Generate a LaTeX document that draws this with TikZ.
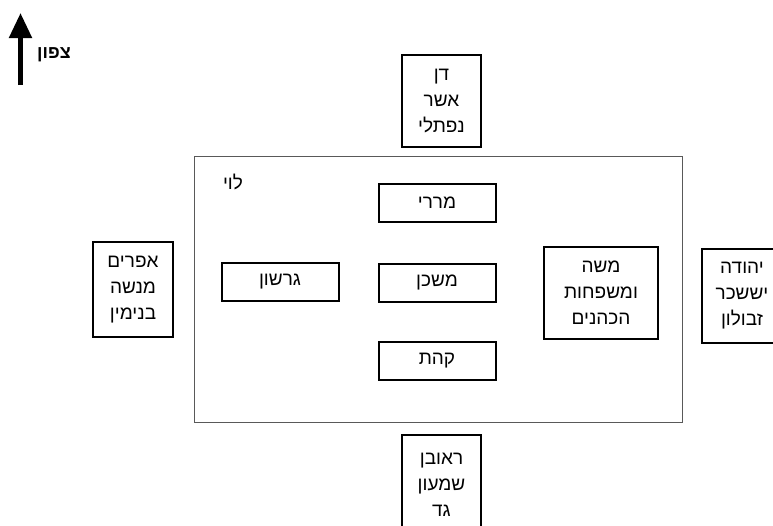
\documentclass[tikz,border=0pt]{standalone}
\usepackage{fontspec}
\newfontfamily\hebfont[Script=Hebrew]{Liberation Sans}
\TeXXeTstate=1
\usepackage{tikz}
\usetikzlibrary{arrows.meta}
\newcommand{\heb}[1]{\beginR #1\endR}

\begin{document}
\begin{tikzpicture}[x=1pt, y=-1pt,
  tribe/.style={draw, line width=2pt, align=center, inner sep=0pt,
    font=\hebfont\fontsize{19}{26}\selectfont},
  family/.style={tribe, minimum width=117pt, minimum height=38pt}]
\useasboundingbox (0,0) rectangle (773,525);
\clip (0,0) rectangle (773,525);
\fill[white] (0,0) rectangle (773,525);
% north arrow
\coordinate (arrowfoot) at (20.5,85);
\coordinate (arrowtip) at (20.5,13);
\draw[line width=5pt, -{Triangle[length=25pt, width=22pt]}] (arrowfoot) -- (arrowtip);
\node[font=\hebfont\bfseries\fontsize{18}{20}\selectfont] (north) at (54,55) {\heb{צפון}};
% camp of levi
\draw[gray!70!black, line width=1pt] (194,156) rectangle (682,422);
\node[font=\hebfont\fontsize{19}{20}\selectfont] (levi) at (233,182) {\heb{לוי}};
\node[family] (merari) at (437,203) {\heb{מררי}};
\node[family] (mishkan) at (437,282.5) {\heb{משכן}};
\node[family] (gershon) at (280,281.5) {\heb{גרשון}};
\node[family] (kehat) at (437,360.5) {\heb{קהת}};
\node[tribe, minimum width=114pt, minimum height=92pt] (moshe) at (601,293)
  {\heb{משה}\\\heb{ומשפחות}\\\heb{הכהנים}};
% the four camps
\node[tribe, minimum width=79pt, minimum height=92pt] (dan) at (441.5,101)
  {\heb{דן}\\\heb{אשר}\\\heb{נפתלי}};
\node[tribe, minimum width=80pt, minimum height=95pt] (efraim) at (133,289.5)
  {\heb{אפרים}\\\heb{מנשה}\\\heb{בנימין}};
\node[tribe, minimum width=80pt, minimum height=94pt] (yehuda) at (742,296)
  {\heb{יהודה}\\\heb{יששכר}\\\heb{זבולון}};
\node[tribe, minimum width=79pt, minimum height=100pt] (reuven) at (441.5,485)
  {\heb{ראובן}\\\heb{שמעון}\\\heb{גד}};
\end{tikzpicture}
\end{document}
